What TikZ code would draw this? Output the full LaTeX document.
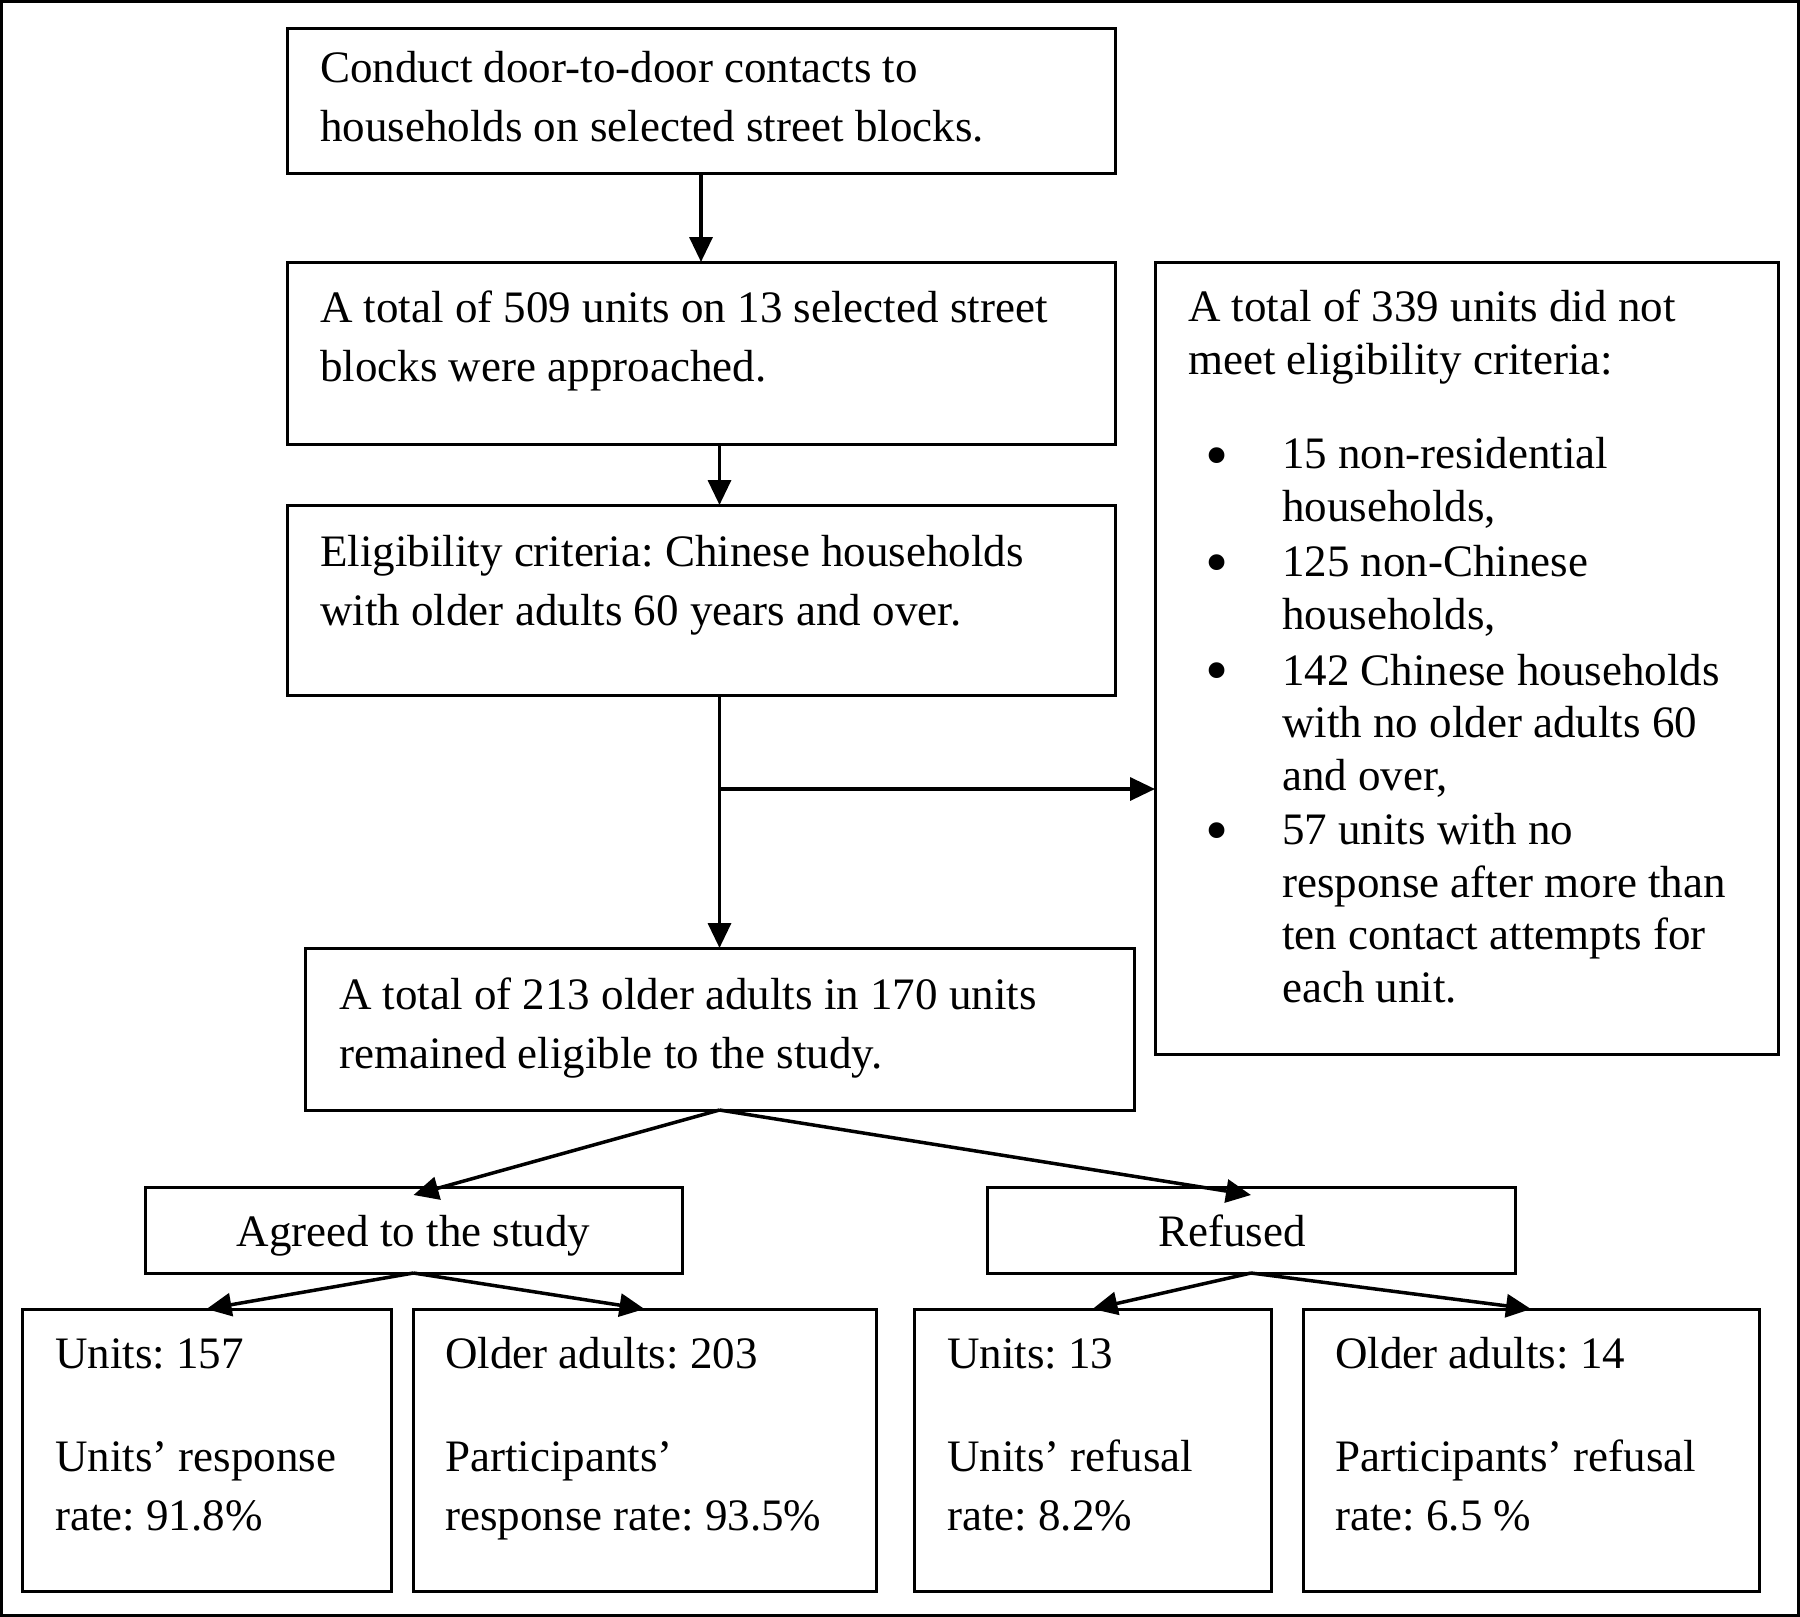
\documentclass[tikz,border=0pt]{standalone}
\usepackage{fontspec}
\setmainfont{Liberation Serif}
\usetikzlibrary{arrows.meta}
\begin{document}
\frenchspacing
\begin{tikzpicture}[x=1pt,y=-1pt,
  frame/.style={draw,line width=3pt,inner sep=0pt,outer sep=0pt,anchor=north west},
  txt/.style={inner sep=0pt,anchor=base west,align=left,font=\fontsize{45}{59}\selectfont\frenchspacing},
  txtr/.style={inner sep=0pt,anchor=base west,align=left,font=\fontsize{45}{52.5}\selectfont\frenchspacing},
  txtc/.style={inner sep=0pt,anchor=base,font=\fontsize{45}{58}\selectfont\frenchspacing},
  dot/.style={inner sep=0pt,anchor=center,font=\fontsize{66}{70}\selectfont},
  conn/.style={line width=3.5pt,-{Triangle[length=25pt,width=23pt]}}]
\useasboundingbox (0,0) rectangle (1800,1617);
\draw[line width=3pt] (1.5,1.5) rectangle (1798.5,1615.5);
% boxes
\node[frame,minimum width=828pt,minimum height=145pt] (b1) at (287,28) {};
\node[frame,minimum width=828pt,minimum height=182pt] (b2) at (287,262) {};
\node[frame,minimum width=828pt,minimum height=190pt] (b3) at (287,505) {};
\node[frame,minimum width=623pt,minimum height=792pt] (rb) at (1155,262) {};
\node[frame,minimum width=829pt,minimum height=162pt] (b4) at (305,948) {};
\node[frame,minimum width=537pt,minimum height=86pt] (ag) at (145,1187) {};
\node[frame,minimum width=528pt,minimum height=86pt] (rf) at (987,1187) {};
\node[frame,minimum width=369pt,minimum height=282pt] (c1) at (22,1309) {};
\node[frame,minimum width=463pt,minimum height=282pt] (c2) at (413,1309) {};
\node[frame,minimum width=357pt,minimum height=282pt] (c3) at (914,1309) {};
\node[frame,minimum width=456pt,minimum height=282pt] (c4) at (1303,1309) {};
% texts (multi-line nodes are anchored at the baseline of their last line)
\node[txt] (t1) at (320,141) {Conduct door-to-door contacts to\\households on selected street blocks.};
\node[txt] (t2) at (320,381) {A total of 509 units on 13 selected street\\blocks were approached.};
\node[txt] (t3) at (320,625) {Eligibility criteria: Chinese households\\with older adults 60 years and over.};
\node[txtr] (tr) at (1188,374) {A total of 339 units did not\\meet eligibility criteria:};
\node[dot] (u1) at (1217,463) {•};
\node[txtr] (i1) at (1282,521) {15 non-residential\\households,};
\node[dot] (u2) at (1217,570) {•};
\node[txtr] (i2) at (1282,629) {125 non-Chinese\\households,};
\node[dot] (u3) at (1217,678) {•};
\node[txtr] (i3) at (1282,790) {142 Chinese households\\with no older adults 60\\and over,};
\node[dot] (u4) at (1217,838) {•};
\node[txtr] (i4) at (1282,1002) {57 units with no\\response after more than\\ten contact attempts for\\each unit.};
\node[txt] (t4) at (339,1068) {A total of 213 older adults in 170 units\\remained eligible to the study.};
\node[txtc] (ta) at (ag.center |- 0,1246) {Agreed to the study};
\node[txtc] (tf) at (1232,1246) {Refused};
\node[txt] (s1a) at (55,1368) {Units: 157};
\node[txt] (s1b) at (55,1530) {Units’ response\\rate: 91.8\%};
\node[txt] (s2a) at (445,1368) {Older adults: 203};
\node[txt] (s2b) at (445,1530) {Participants’\\response rate: 93.5\%};
\node[txt] (s3a) at (947,1368) {Units: 13};
\node[txt] (s3b) at (947,1530) {Units’ refusal\\rate: 8.2\%};
\node[txt] (s4a) at (1335,1368) {Older adults: 14};
\node[txt] (s4b) at (1335,1530) {Participants’ refusal\\rate: 6.5 \%};
% connectors
\draw[conn] (b1.south) -- (b2.north -| b1.south);
\draw[conn] (b2.south -| b4.north) -- (b3.north -| b4.north);
\draw[conn] (b3.south -| b4.north) -- (b4.north);
\coordinate (br) at (b4.north |- 0,789);
\draw[conn] (br) -- (rb.west |- br);
\draw[conn] (b4.south) -- ([yshift=-8pt]ag.north);
\draw[conn] (b4.south) -- ([yshift=-8pt]rf.north);
\draw[conn] (ag.south) -- (c1.north);
\draw[conn] (ag.south) -- (c2.north);
\draw[conn] (rf.south) -- (c3.north);
\draw[conn] (rf.south) -- (c4.north);
\end{tikzpicture}
\end{document}
